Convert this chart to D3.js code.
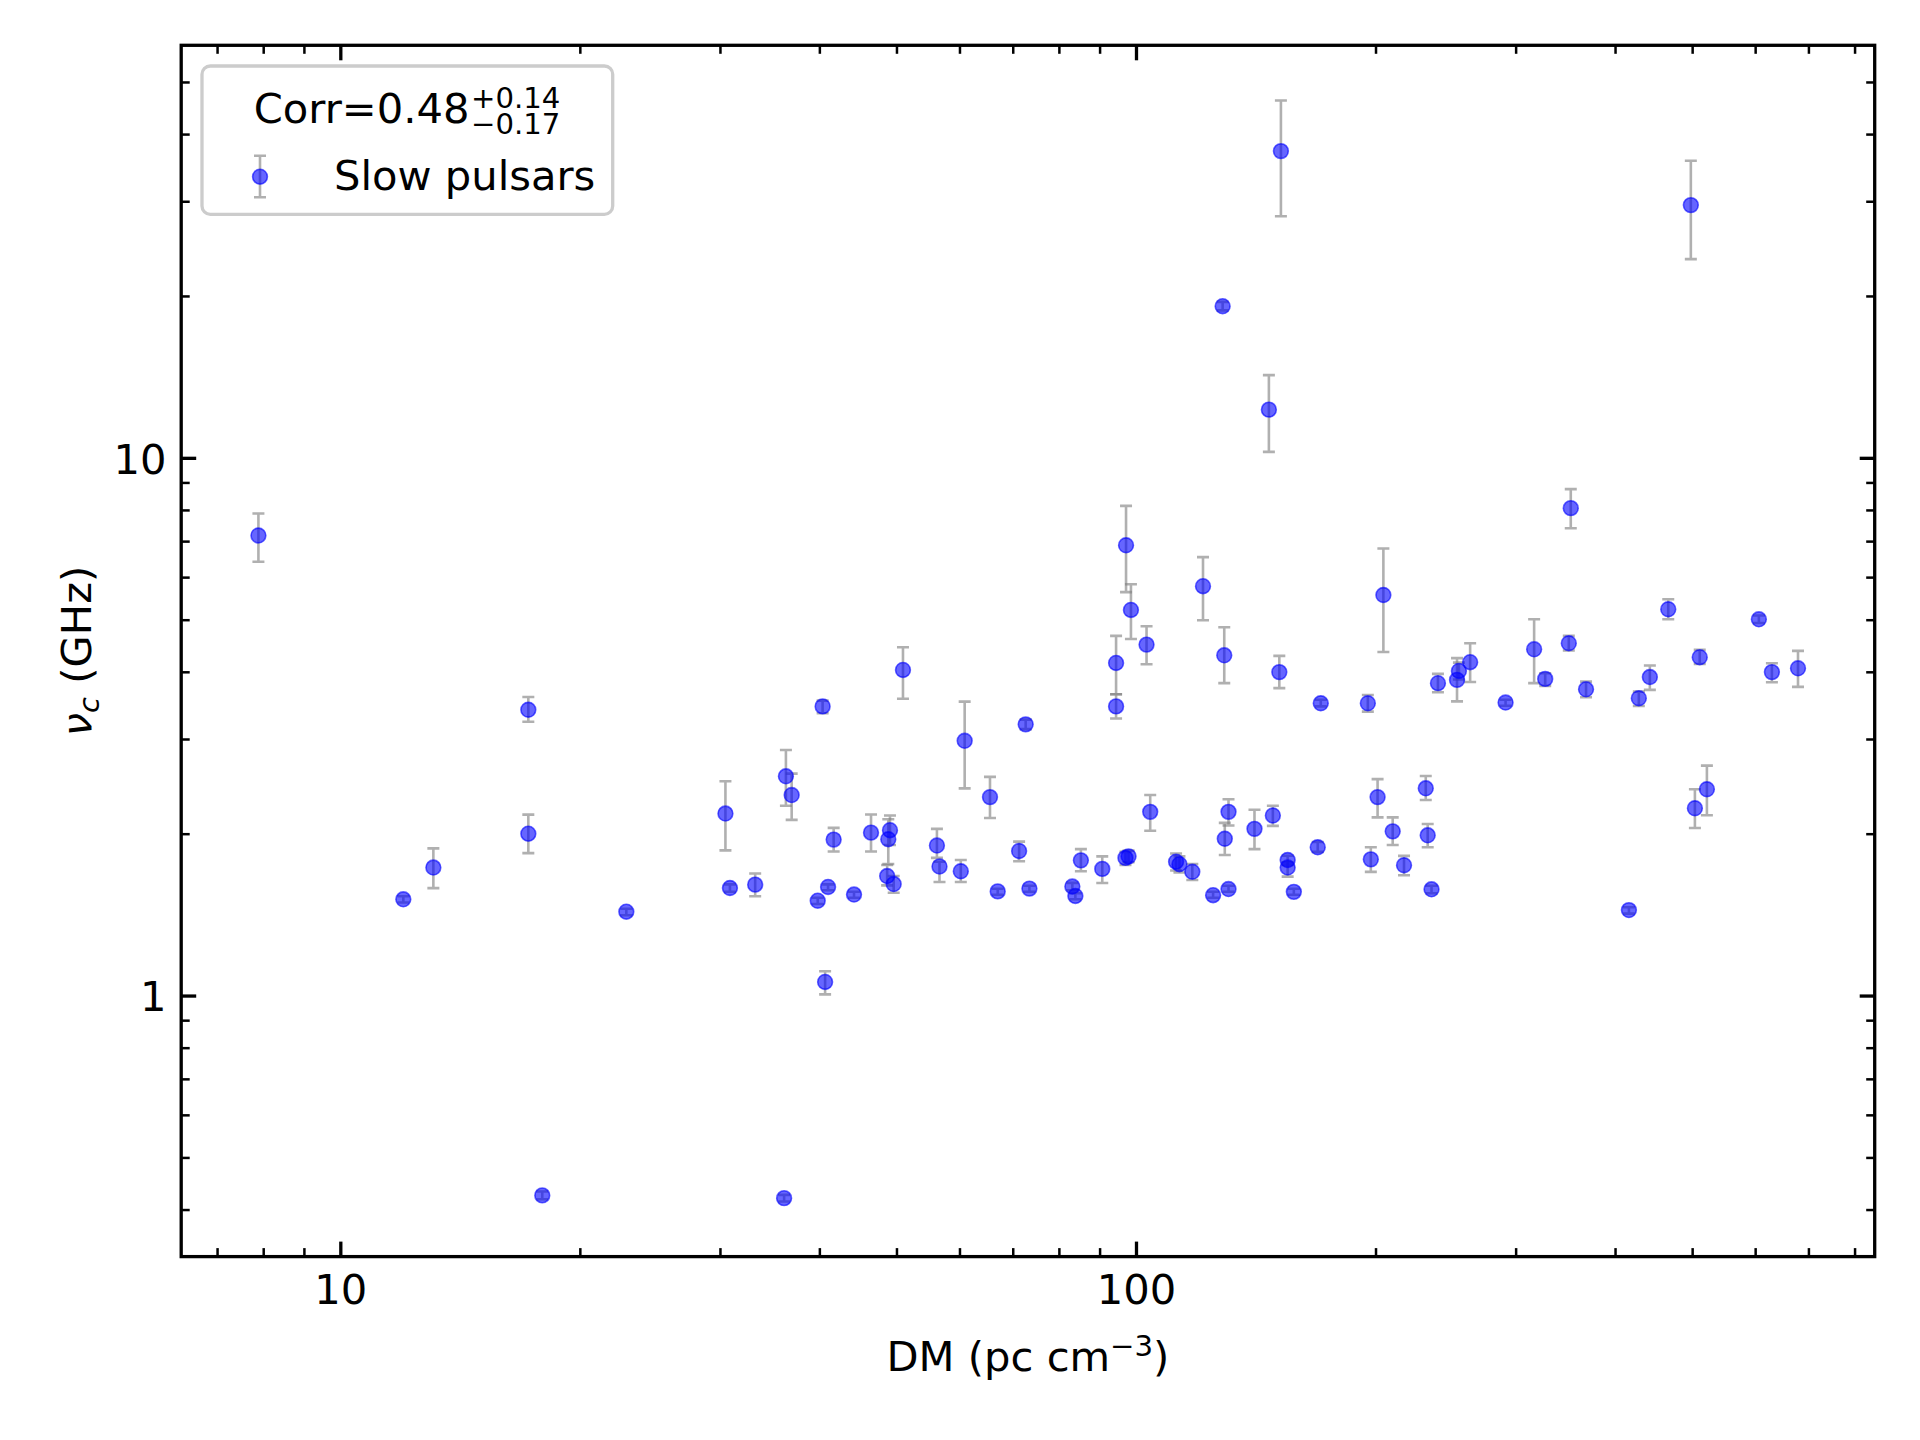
<!DOCTYPE html>
<html>
<head>
<meta charset="utf-8">
<script src="https://cdn.jsdelivr.net/npm/d3@7"></script>
<style>
  body { margin: 0; background: #fff; }
  svg { display: block; font-family: "DejaVu Sans", sans-serif; }
</style>
</head>
<body>
<svg id="chart" width="1920" height="1440"></svg>
<script>
// dispersion measure of each slow pulsar (pc cm^-3)
const dm = [7.89, 12.0, 13.09, 17.23, 17.23, 17.94, 22.88, 30.48, 30.88, 33.22,
  36.31, 36.92, 36.12, 39.81, 40.38, 40.67, 41.02, 41.69, 44.22, 46.45,
  48.83, 49.07, 48.67, 49.6, 50.95, 56.21, 56.63, 60.23, 60.91, 65.54,
  67.02, 71.3, 72.67, 73.46, 83.18, 83.91, 85.26, 90.7, 94.4, 94.4,
  97.0, 97.87, 97.16, 98.55, 103.1, 104.2, 112.3, 113.4, 117.7, 121.4,
  125.0, 128.5, 129.3, 129.1, 130.7, 130.7, 140.9, 146.9, 148.6, 151.4,
  152.1, 155.1, 155.1, 157.9, 169.2, 170.7, 195.6, 197.3, 201.2, 204.6,
  210.2, 217.2, 231.3, 232.6, 235.2, 239.6, 253.2, 254.6, 263.0, 291.4,
  316.5, 326.8, 349.9, 351.9, 367.8, 416.4, 428.5, 442.4, 466.6, 498.1,
  504.0, 511.1, 521.8, 606.5, 629.8, 679.2];

// critical frequency nu_c (GHz)
const nuC = [7.17, 1.51, 1.73, 3.40, 2.00, 0.425, 1.432, 2.18, 1.585, 1.608,
  2.557, 2.36, 0.42, 1.501, 3.449, 1.06, 1.592, 1.95, 1.541, 2.009,
  1.953, 2.03, 1.668, 1.612, 4.032, 1.901, 1.738, 1.703, 2.977, 2.339,
  1.562, 1.857, 3.194, 1.581, 1.595, 1.532, 1.784, 1.72, 3.449, 4.155,
  1.803, 1.815, 6.877, 5.213, 4.494, 2.196, 1.774, 1.755, 1.699, 5.771,
  1.537, 19.14, 1.957, 4.293, 2.196, 1.578, 2.042, 12.29, 2.162, 3.995,
  37.19, 1.787, 1.73, 1.559, 1.887, 3.496, 3.496, 1.792, 2.339, 5.558,
  2.02, 1.747, 2.429, 1.986, 1.576, 3.81, 3.864, 4.015, 4.168, 3.507,
  4.405, 3.88, 4.52, 8.062, 3.711, 1.442, 3.572, 3.911, 5.229, 29.51,
  2.23, 4.258, 2.419, 5.009, 3.995, 4.061];

// lower / upper end of the error bar (GHz)
const nuLo = [6.41, 1.49, 1.584, 3.23, 1.84, 0.418, 1.41, 1.862, 1.56, 1.53,
  2.254, 2.122, 0.414, 1.48, 3.35, 1.005, 1.57, 1.853, 1.52, 1.853,
  1.757, 1.906, 1.603, 1.553, 3.564, 1.803, 1.626, 1.626, 2.428, 2.139,
  1.54, 1.777, 3.13, 1.56, 1.57, 1.51, 1.703, 1.619, 3.276, 3.634,
  1.75, 1.77, 5.626, 4.603, 4.132, 2.025, 1.708, 1.694, 1.64, 4.989,
  1.52, 18.8, 1.825, 3.81, 2.071, 1.56, 1.872, 10.26, 2.068, 3.73,
  28.14, 1.75, 1.664, 1.54, 1.85, 3.45, 3.373, 1.698, 2.145, 4.355,
  1.906, 1.674, 2.311, 1.887, 1.55, 3.664, 3.525, 3.87, 3.83, 3.46,
  3.81, 3.766, 4.381, 7.396, 3.587, 1.42, 3.456, 3.702, 5.009, 23.42,
  2.049, 4.136, 2.164, 4.93, 3.825, 3.75];

const nuHi = [7.88, 1.53, 1.878, 3.59, 2.17, 0.432, 1.45, 2.503, 1.61, 1.686,
  2.862, 2.587, 0.426, 1.52, 3.535, 1.11, 1.61, 2.05, 1.56, 2.171,
  2.128, 2.162, 1.749, 1.668, 4.444, 2.042, 1.774, 1.787, 3.52, 2.551,
  1.58, 1.933, 3.26, 1.6, 1.62, 1.55, 1.872, 1.815, 3.634, 4.665,
  1.85, 1.86, 8.14, 5.82, 4.862, 2.36, 1.837, 1.815, 1.757, 6.537,
  1.56, 19.5, 2.095, 4.842, 2.318, 1.6, 2.216, 14.25, 2.254, 4.282,
  46.2, 1.82, 1.77, 1.58, 1.93, 3.55, 3.623, 1.887, 2.526, 6.784,
  2.145, 1.819, 2.561, 2.085, 1.6, 3.965, 4.241, 4.16, 4.52, 3.55,
  5.009, 3.975, 4.665, 8.744, 3.835, 1.46, 3.674, 4.109, 5.456, 35.68,
  2.419, 4.394, 2.677, 5.09, 4.15, 4.375];

const xLimits = [6.31, 848];
const yLimits = [0.327, 58.5];
const xMajorTicks = [10, 100];
const xMinorTicks = [7, 8, 9, 20, 30, 40, 50, 60, 70, 80, 90, 200, 300, 400, 500, 600, 700, 800];
const yMajorTicks = [1, 10];
const yMinorTicks = [0.4, 0.5, 0.6, 0.7, 0.8, 0.9, 2, 3, 4, 5, 6, 7, 8, 9, 20, 30, 40, 50];

const seriesLabel = "Slow pulsars";
const corrText = "Corr=0.48";
const corrPlus = "+0.14";
const corrMinus = "\u22120.17";

const W = 1920, H = 1440;
const plot = {left: 181.2, top: 45.3, right: 1874.7, bottom: 1256.6};
const FS = 41.67, SMALL = 29.17;
const majorLen = 15, minorLen = 8.5;

const svg = d3.select("#chart");
svg.append("rect").attr("width", W).attr("height", H).attr("fill", "#fff");

const x = d3.scaleLog().domain(xLimits).range([plot.left, plot.right]);
const y = d3.scaleLog().domain(yLimits).range([plot.bottom, plot.top]);

function styleAxis(g, lw) {
  g.attr("font-family", null).attr("font-size", FS);
  g.select(".domain").remove();
  g.selectAll(".tick line").attr("stroke", "#000").attr("stroke-width", lw);
  g.selectAll(".tick text").attr("fill", "#000");
}

// bottom
svg.append("g").attr("transform", `translate(0,${plot.bottom})`)
  .call(d3.axisBottom(x).tickValues(xMinorTicks).tickFormat("").tickSize(-minorLen))
  .call(g => styleAxis(g, 2.5));
svg.append("g").attr("transform", `translate(0,${plot.bottom})`)
  .call(d3.axisBottom(x).tickValues(xMajorTicks).tickFormat(d3.format("d"))
    .tickSize(-majorLen).tickPadding(18))
  .call(g => styleAxis(g, 3.3));
// top
svg.append("g").attr("transform", `translate(0,${plot.top})`)
  .call(d3.axisTop(x).tickValues(xMinorTicks).tickFormat("").tickSize(-minorLen))
  .call(g => styleAxis(g, 2.5));
svg.append("g").attr("transform", `translate(0,${plot.top})`)
  .call(d3.axisTop(x).tickValues(xMajorTicks).tickFormat("").tickSize(-majorLen))
  .call(g => styleAxis(g, 3.3));
// left
svg.append("g").attr("transform", `translate(${plot.left},0)`)
  .call(d3.axisLeft(y).tickValues(yMinorTicks).tickFormat("").tickSize(-minorLen))
  .call(g => styleAxis(g, 2.5));
svg.append("g").attr("transform", `translate(${plot.left},0)`)
  .call(d3.axisLeft(y).tickValues(yMajorTicks).tickFormat(d3.format("d"))
    .tickSize(-majorLen).tickPadding(14.6))
  .call(g => styleAxis(g, 3.3))
  .call(g => g.selectAll(".tick text").attr("dy", "0.365em"));
// right
svg.append("g").attr("transform", `translate(${plot.right},0)`)
  .call(d3.axisRight(y).tickValues(yMinorTicks).tickFormat("").tickSize(-minorLen))
  .call(g => styleAxis(g, 2.5));
svg.append("g").attr("transform", `translate(${plot.right},0)`)
  .call(d3.axisRight(y).tickValues(yMajorTicks).tickFormat("").tickSize(-majorLen))
  .call(g => styleAxis(g, 3.3));

// data
const pts = dm.map((d, i) => ({dm: d, nu: nuC[i], lo: nuLo[i], hi: nuHi[i]}));
const cap = 6;

svg.append("g")
  .selectAll("path")
  .data(pts)
  .join("path")
  .attr("d", d => {
    const cx = x(d.dm), y0 = y(d.lo), y1 = y(d.hi);
    return `M${cx},${y0}V${y1}M${cx - cap},${y0}H${cx + cap}M${cx - cap},${y1}H${cx + cap}`;
  })
  .attr("fill", "none")
  .attr("stroke", "#808080")
  .attr("stroke-opacity", 0.62)
  .attr("stroke-width", 2.6);

svg.append("g")
  .selectAll("circle")
  .data(pts)
  .join("circle")
  .attr("cx", d => x(d.dm))
  .attr("cy", d => y(d.nu))
  .attr("r", 7.4)
  .attr("fill", "blue")
  .attr("fill-opacity", 0.6)
  .attr("stroke", "blue")
  .attr("stroke-opacity", 0.6)
  .attr("stroke-width", 1.6);

// frame
svg.append("rect")
  .attr("x", plot.left).attr("y", plot.top)
  .attr("width", plot.right - plot.left).attr("height", plot.bottom - plot.top)
  .attr("fill", "none").attr("stroke", "#000").attr("stroke-width", 3.3);

// axis labels
const xl = svg.append("text")
  .attr("x", (plot.left + plot.right) / 2).attr("y", 1371)
  .attr("text-anchor", "middle").attr("font-size", FS);
xl.append("tspan").text("DM (pc cm");
xl.append("tspan").attr("font-size", SMALL).attr("dy", -15).text("\u22123");
xl.append("tspan").attr("dy", 15).text(")");

const yl = svg.append("text")
  .attr("transform", `translate(91,${(plot.top + plot.bottom) / 2}) rotate(-90)`)
  .attr("text-anchor", "middle").attr("font-size", FS);
yl.append("tspan").attr("font-style", "italic").text("\u03bd");
yl.append("tspan").attr("font-style", "italic").attr("font-size", SMALL).attr("dy", 8).text("c");
yl.append("tspan").attr("dy", -8).text(" (GHz)");

// legend
const leg = svg.append("g");
leg.append("rect")
  .attr("x", 202).attr("y", 66).attr("width", 410.7).attr("height", 148.3)
  .attr("rx", 8.3)
  .attr("fill", "#fff").attr("fill-opacity", 0.8)
  .attr("stroke", "#ccc").attr("stroke-width", 3.3);

// title with stacked super/subscript in one text element
const title = leg.append("text").attr("x", 253.7).attr("y", 123.3).attr("font-size", FS);
title.append("tspan").text(corrText);
title.append("tspan").attr("x", 471).attr("y", 108).attr("font-size", SMALL).text(corrPlus);
title.append("tspan").attr("x", 471).attr("y", 134.3).attr("font-size", SMALL).text(corrMinus);

const hx = 260, hy = 176.7;
leg.append("path")
  .attr("d", `M${hx},155.7V197.3M${hx - cap},155.7H${hx + cap}M${hx - cap},197.3H${hx + cap}`)
  .attr("fill", "none").attr("stroke", "#808080")
  .attr("stroke-opacity", 0.62).attr("stroke-width", 2.6);
leg.append("circle")
  .attr("cx", hx).attr("cy", hy).attr("r", 7.4)
  .attr("fill", "blue").attr("fill-opacity", 0.6)
  .attr("stroke", "blue").attr("stroke-opacity", 0.6).attr("stroke-width", 1.6);
leg.append("text").attr("x", 334).attr("y", 190).attr("font-size", FS).text(seriesLabel);
</script>
</body>
</html>
